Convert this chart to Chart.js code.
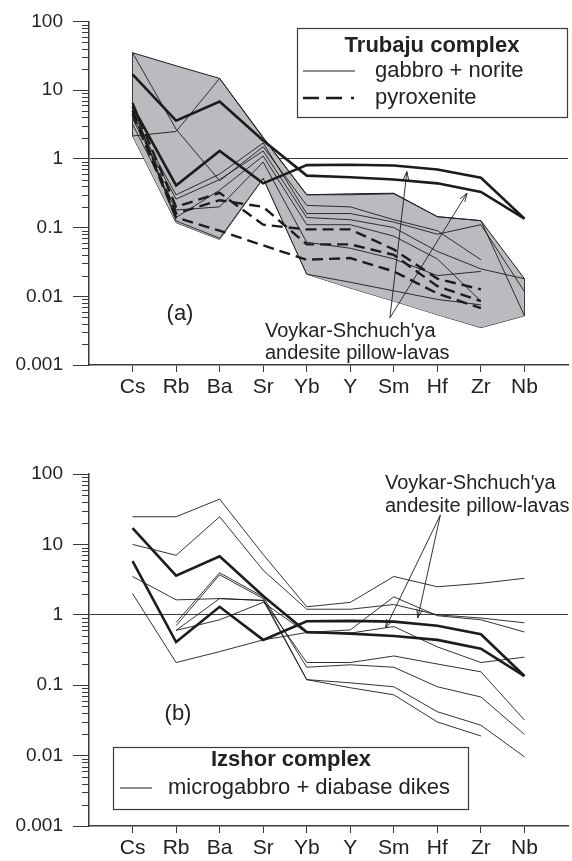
<!DOCTYPE html>
<html>
<head>
<meta charset="utf-8">
<script src="https://cdn.jsdelivr.net/npm/chart.js@4.4.1/dist/chart.umd.min.js"></script>
<style>
    html, body { margin: 0; padding: 0; background: #fff; }
    #wrap { position: relative; width: 572px; height: 861px; }
    canvas { position: absolute; left: 0; }
    #chart-a { top: 0; }
    #chart-b { top: 440px; }
</style>
</head>
<body>
<div id="wrap">
    <canvas id="chart-a" width="572" height="400"></canvas>
    <canvas id="chart-b" width="572" height="421"></canvas>
</div>
<script>
const elements = ['Cs', 'Rb', 'Ba', 'Sr', 'Yb', 'Y', 'Sm', 'Hf', 'Zr', 'Nb'];
const yTickValues = [0.001, 0.01, 0.1, 1, 10, 100];

// Voykar-Shchuch'ya andesite pillow-lavas (thick lines, both panels)
const voykarA = [17, 3.6, 6.8, 1.85, 0.57, 0.54, 0.5, 0.44, 0.33, 0.135];
const voykarB = [5.8, 0.41, 1.3, 0.44, 0.81, 0.82, 0.8, 0.7, 0.53, 0.135];

// (a) Trubaju complex: grey field
const envelopeUpper = [35, 22.6, 14.8, 2.06, 0.30, 0.31, 0.316, 0.144, 0.126, 0.018];
const envelopeLower = [2.15, 0.118, 0.067, 0.52, 0.021, 0.0132, 0.0085, 0.0054, 0.0035, 0.0052];

// (a) gabbro + norite
const gabbroNorite = [
    [35, 2.7, 0.48, 1.5, 0.21, 0.2, 0.13, 0.09, 0.034],
    [2.15, 2.5, 14.8, 2.0, 0.30, 0.30, 0.31, 0.144, 0.126, 0.0052],
    [4.2, 0.3, 0.6, 1.7, 0.16, 0.16, 0.12, 0.08, 0.11, 0.0117],
    [3.8, 0.26, 0.5, 1.3, 0.14, 0.13, 0.1, 0.045, 0.025, 0.018],
    [5.5, 0.14, 0.35, 1.1, 0.11, 0.11, 0.075, 0.035, 0.0085],
    [6.2, 0.125, 0.07, 0.52, 0.021, 0.016, 0.012, 0.009, 0.0075],
    [3.2, 0.18, 0.2, 0.9, 0.061, 0.05, 0.035, 0.02, 0.023]
];

// (a) pyroxenite
const pyroxenite = [
    [6.5, 0.2, 0.32, 0.11, 0.094, 0.094, 0.048, 0.018, 0.0126],
    [5.0, 0.16, 0.25, 0.2, 0.057, 0.057, 0.04, 0.014, 0.0085],
    [4.5, 0.14, 0.09, 0.055, 0.034, 0.036, 0.023, 0.011, 0.0067]
];

// (b) Izshor complex: microgabbro + diabase dikes
const izshorDikes = [
    [24.7, 24.7, 44, 7.2, 1.3, 1.5, 3.5, 2.5, 2.8, 3.3],
    [10, 7, 24.7, 4.3, 1.2, 1.2, 1.4, 1.0, 0.9, 0.77],
    [3.5, 1.63, 1.7, 1.6, 0.21, 0.21, 0.26, 0.2, 0.155, 0.032],
    [2.0, 0.21, 0.3, 0.44, 0.56, 0.61, 1.8, 0.97, 0.85, 0.57],
    [null, 0.78, 3.95, 1.8, 0.18, 0.195, 0.18, 0.095, 0.068, 0.02],
    [null, 0.7, 3.7, 1.7, 0.12, 0.108, 0.095, 0.042, 0.027, 0.0096],
    [null, 0.6, 1.7, 1.6, 0.12, 0.092, 0.073, 0.03, 0.019],
    [null, 0.6, 0.85, 1.5, 0.55, 0.55, 0.68, 0.35, 0.21, 0.25]
];

const FONT = "'Liberation Sans', Arial, Helvetica, sans-serif";
const INK = '#1c1c1c';
const AXIS = '#3a3a3a';
Chart.defaults.font.family = FONT;
Chart.defaults.color = '#222';

function toPoints(values) {
    return values
        .map((v, i) => ({ x: i + 1, y: v }))
        .filter(p => p.y != null);
}

function lineSet(values, width, order, dash) {
    return {
        data: toPoints(values),
        borderColor: INK,
        borderWidth: width,
        borderDash: dash || [],
        pointRadius: 0,
        fill: false,
        order: order
    };
}

function edgeSet(i) {
    return {
        data: [{ x: i + 1, y: envelopeUpper[i] }, { x: i + 1, y: envelopeLower[i] }],
        borderColor: INK,
        borderWidth: 1,
        pointRadius: 0,
        fill: false,
        order: 3
    };
}

function buildScales() {
    return {
        x: {
            type: 'linear',
            min: 0,
            max: 11,
            afterBuildTicks: s => { s.ticks = elements.map((_, i) => ({ value: i + 1 })); },
            afterFit: s => { s.height = 35; },
            ticks: {
                callback: v => elements[v - 1] || '',
                font: { size: 21 },
                color: '#222',
                padding: 3,
                maxRotation: 0,
                autoSkip: false
            },
            grid: { drawOnChartArea: false, tickLength: 7, tickColor: AXIS, lineWidth: 1 },
            border: { color: AXIS, width: 1.5 }
        },
        y: {
            type: 'logarithmic',
            min: 0.001,
            max: 100,
            afterBuildTicks: s => { s.ticks = yTickValues.map(v => ({ value: v })); },
            afterFit: s => { s.width = 89; },
            ticks: {
                callback: v => String(v),
                font: { size: 19 },
                color: '#222',
                padding: 10
            },
            grid: {
                color: c => (c.tick && c.tick.value === 1) ? AXIS : 'rgba(0,0,0,0)',
                tickColor: AXIS,
                tickLength: 16,
                lineWidth: 1
            },
            border: { color: AXIS, width: 1.5 }
        }
    };
}

const minorTicks = {
    id: 'minorTicks',
    afterDraw(chart) {
        const y = chart.scales.y;
        const ctx = chart.ctx;
        const left = chart.chartArea.left;
        ctx.save();
        ctx.strokeStyle = AXIS;
        ctx.lineWidth = 1;
        yTickValues.slice(0, -1).forEach(d => {
            for (let k = 2; k <= 9; k++) {
                const py = Math.round(y.getPixelForValue(d * k)) + 0.5;
                ctx.beginPath();
                ctx.moveTo(left - 7, py);
                ctx.lineTo(left, py);
                ctx.stroke();
            }
        });
        ctx.restore();
    }
};

function drawArrow(ctx, x0, y0, x1, y1) {
    ctx.beginPath();
    ctx.moveTo(x0, y0);
    ctx.lineTo(x1, y1);
    ctx.stroke();
    const a = Math.atan2(y1 - y0, x1 - x0);
    const len = 9, spread = 0.32;
    ctx.beginPath();
    ctx.moveTo(x1 - len * Math.cos(a - spread), y1 - len * Math.sin(a - spread));
    ctx.lineTo(x1, y1);
    ctx.lineTo(x1 - len * Math.cos(a + spread), y1 - len * Math.sin(a + spread));
    ctx.stroke();
}

function makeOverlay(cfg) {
    return {
        id: 'overlay',
        afterDraw(chart) {
            const ctx = chart.ctx;
            const sx = chart.scales.x, sy = chart.scales.y;
            ctx.save();

            // arrows towards the andesite lines
            ctx.strokeStyle = INK;
            ctx.lineWidth = 0.9;
            const ax = sx.getPixelForValue(cfg.apex.x), ay = sy.getPixelForValue(cfg.apex.y);
            cfg.tips.forEach(t => {
                drawArrow(ctx, ax, ay, sx.getPixelForValue(t.x), sy.getPixelForValue(t.y));
            });

            ctx.fillStyle = '#222';
            ctx.textBaseline = 'middle';
            ctx.textAlign = 'left';
            ctx.font = '20px ' + FONT;
            cfg.note.lines.forEach((txt, i) => {
                ctx.fillText(txt, cfg.note.x, cfg.note.y + i * cfg.note.step);
            });

            ctx.textAlign = 'center';
            ctx.font = '22px ' + FONT;
            ctx.fillText(cfg.panel.text, cfg.panel.x, cfg.panel.y);

            // legend box
            const lg = cfg.legend;
            const [bx, by, bw, bh] = lg.box;
            ctx.fillStyle = '#fff';
            ctx.fillRect(bx, by, bw, bh);
            ctx.strokeStyle = AXIS;
            ctx.lineWidth = 1.2;
            ctx.strokeRect(bx + 0.5, by + 0.5, bw, bh);
            ctx.fillStyle = '#222';
            ctx.font = 'bold 22px ' + FONT;
            ctx.textAlign = 'center';
            ctx.fillText(lg.title, lg.titleX, lg.titleY);
            ctx.font = '22px ' + FONT;
            ctx.textAlign = 'left';
            lg.rows.forEach(r => {
                ctx.strokeStyle = INK;
                ctx.lineWidth = r.width;
                ctx.setLineDash(r.dash);
                ctx.beginPath();
                ctx.moveTo(r.x0, r.y);
                ctx.lineTo(r.x1, r.y);
                ctx.stroke();
                ctx.setLineDash([]);
                ctx.fillText(r.label, r.tx, r.y);
            });
            ctx.restore();
        }
    };
}

const baseOptions = (topPad) => ({
    responsive: false,
    animation: false,
    devicePixelRatio: 1,
    layout: { padding: { top: topPad, right: 4, left: 0, bottom: 0 } },
    plugins: { legend: { display: false }, tooltip: { enabled: false } },
    scales: buildScales()
});

// ---- panel (a)
const datasetsA = [
    {
        data: toPoints(envelopeUpper),
        borderColor: INK,
        borderWidth: 1,
        backgroundColor: '#babbbf',
        fill: '+1',
        pointRadius: 0,
        order: 3
    },
    {
        data: toPoints(envelopeLower),
        borderColor: INK,
        borderWidth: 1,
        fill: false,
        pointRadius: 0,
        order: 3
    },
    edgeSet(0),
    edgeSet(elements.length - 1),
    ...gabbroNorite.map(v => lineSet(v, 0.9, 2)),
    ...pyroxenite.map(v => lineSet(v, 2.4, 1, [11, 6])),
    lineSet(voykarA, 2.6, 0),
    lineSet(voykarB, 2.6, 0)
];

new Chart(document.getElementById('chart-a'), {
    type: 'line',
    data: { datasets: datasetsA },
    options: baseOptions(15),
    plugins: [minorTicks, makeOverlay({
        apex: { x: 6.91, y: 0.00485 },
        tips: [{ x: 7.30, y: 0.652 }, { x: 8.68, y: 0.316 }],
        note: { lines: ["Voykar-Shchuch'ya", 'andesite pillow-lavas'], x: 265, y: 331, step: 22 },
        panel: { text: '(a)', x: 180, y: 314 },
        legend: {
            box: [297, 28, 270, 89],
            title: 'Trubaju complex', titleX: 432, titleY: 46,
            rows: [
                { label: 'gabbro + norite', x0: 303, x1: 355, y: 71, tx: 375, width: 1, dash: [] },
                { label: 'pyroxenite', x0: 303, x1: 356, y: 98, tx: 375, width: 2.6, dash: [16, 7, 16, 9, 3, 20] }
            ]
        }
    })]
});

// ---- panel (b)
const datasetsB = [
    ...izshorDikes.map(v => lineSet(v, 0.9, 2)),
    lineSet(voykarA, 2.6, 0),
    lineSet(voykarB, 2.6, 0)
];

new Chart(document.getElementById('chart-b'), {
    type: 'line',
    data: { datasets: datasetsB },
    options: baseOptions(34),
    plugins: [minorTicks, makeOverlay({
        apex: { x: 8.07, y: 26.3 },
        tips: [{ x: 6.81, y: 0.65 }, { x: 7.55, y: 0.906 }],
        note: { lines: ["Voykar-Shchuch'ya", 'andesite pillow-lavas'], x: 385, y: 43, step: 23 },
        panel: { text: '(b)', x: 178, y: 274 },
        legend: {
            box: [113, 307, 355, 62],
            title: 'Izshor complex', titleX: 291, titleY: 320,
            rows: [
                { label: 'microgabbro + diabase dikes', x0: 120, x1: 152, y: 348, tx: 168, width: 1, dash: [] }
            ]
        }
    })]
});
</script>
</body>
</html>
